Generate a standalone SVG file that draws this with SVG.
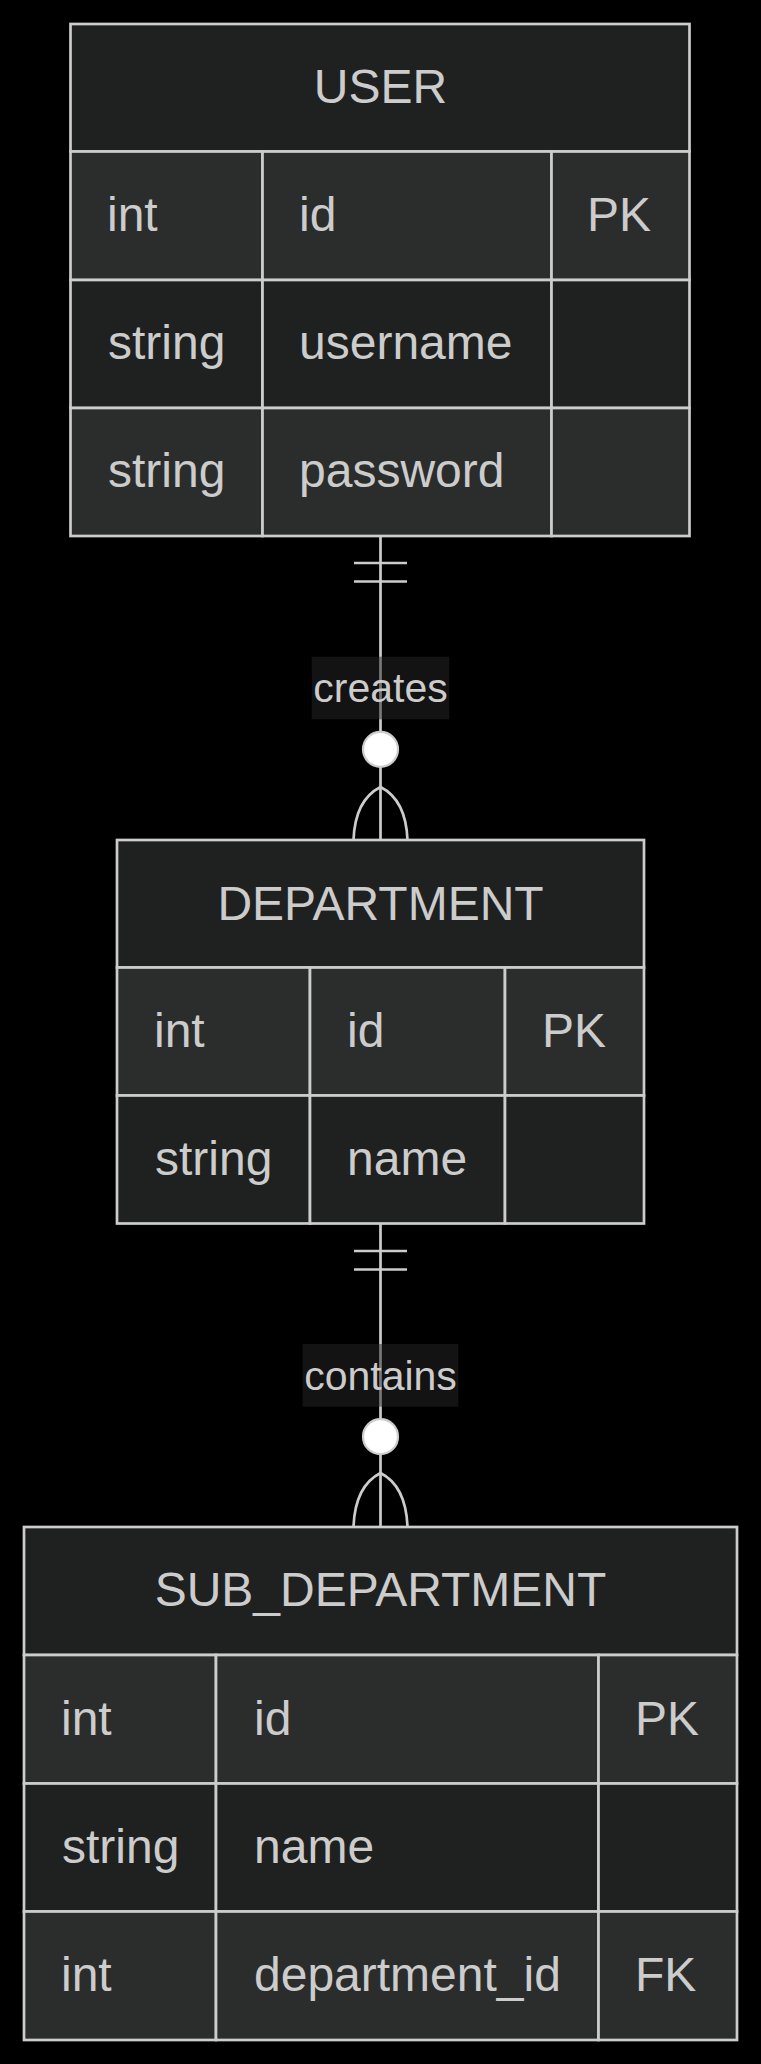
<svg xmlns="http://www.w3.org/2000/svg" width="761" height="2064" viewBox="0 0 761 2064">
<style>
.bg{fill:#000000}
.hd{fill:#1f2020;stroke:#cccccc;stroke-width:2.7}
.odd{fill:#2b2d2d;stroke:#cccccc;stroke-width:2.7}
.even{fill:#1f2020;stroke:#cccccc;stroke-width:2.7}
.t{font-family:"Liberation Sans",Arial,sans-serif;font-size:48px;fill:#cccccc}
.ttl{text-anchor:middle}
.ln{stroke:#cccccc;stroke-width:2.7;fill:none}
.circ{fill:#ffffff;stroke:#cccccc;stroke-width:2.2}
.lblbg{fill:#252525;opacity:0.5}
.lbl{font-family:"Liberation Sans",Arial,sans-serif;font-size:41px;fill:#cccccc;text-anchor:middle}
</style>
<rect class="bg" x="0" y="0" width="761" height="2064"/>
<g id="connectors">
  <g id="rel-user-department">
    <path class="ln" d="M380.5,536 L380.5,840"/>
    <path class="ln" d="M354,563 L407,563 M354,581.5 L407,581.5"/>
    <circle class="circ" cx="380.5" cy="749.3" r="17.5"/>
    <path class="ln" d="M380.5,787 Q355,800 353.5,840 M380.5,787 Q406,800 407.5,840"/>
    <rect class="lblbg" x="311.7" y="656.7" width="137.6" height="62.6"/>
    <text class="lbl" x="380.5" y="702">creates</text>
  </g>
  <g id="rel-department-sub">
    <path class="ln" d="M380.5,1223.5 L380.5,1527"/>
    <path class="ln" d="M354,1251 L407,1251 M354,1269.5 L407,1269.5"/>
    <circle class="circ" cx="380.5" cy="1436.7" r="17.5"/>
    <path class="ln" d="M380.5,1473 Q355,1486 353.5,1527 M380.5,1473 Q406,1486 407.5,1527"/>
    <rect class="lblbg" x="302.6" y="1344" width="155.7" height="62.7"/>
    <text class="lbl" x="380.5" y="1389.5">contains</text>
  </g>
</g>
<g id="USER">
  <rect class="hd" x="70.5" y="24" width="619" height="127.5"/>
  <text class="t ttl" x="380.5" y="103">USER</text>
  <rect class="odd" x="70.5" y="151.5" width="192" height="128.5"/>
  <rect class="odd" x="262.5" y="151.5" width="289" height="128.5"/>
  <rect class="odd" x="551.5" y="151.5" width="138" height="128.5"/>
  <rect class="even" x="70.5" y="280" width="192" height="128"/>
  <rect class="even" x="262.5" y="280" width="289" height="128"/>
  <rect class="even" x="551.5" y="280" width="138" height="128"/>
  <rect class="odd" x="70.5" y="408" width="192" height="128"/>
  <rect class="odd" x="262.5" y="408" width="289" height="128"/>
  <rect class="odd" x="551.5" y="408" width="138" height="128"/>
  <text class="t" x="107" y="231">int</text>
  <text class="t" x="299" y="231">id</text>
  <text class="t" x="587" y="231">PK</text>
  <text class="t" x="108" y="359">string</text>
  <text class="t" x="299" y="359">username</text>
  <text class="t" x="108" y="487">string</text>
  <text class="t" x="299" y="487">password</text>
</g>
<g id="DEPARTMENT">
  <rect class="hd" x="117" y="840" width="527" height="127.5"/>
  <text class="t ttl" x="380.5" y="920">DEPARTMENT</text>
  <rect class="odd" x="117" y="967.5" width="193" height="128"/>
  <rect class="odd" x="310" y="967.5" width="195" height="128"/>
  <rect class="odd" x="505" y="967.5" width="139" height="128"/>
  <rect class="even" x="117" y="1095.5" width="193" height="128"/>
  <rect class="even" x="310" y="1095.5" width="195" height="128"/>
  <rect class="even" x="505" y="1095.5" width="139" height="128"/>
  <text class="t" x="154" y="1047">int</text>
  <text class="t" x="347" y="1047">id</text>
  <text class="t" x="542" y="1047">PK</text>
  <text class="t" x="155" y="1175">string</text>
  <text class="t" x="347" y="1175">name</text>
</g>
<g id="SUB_DEPARTMENT">
  <rect class="hd" x="24" y="1527" width="713" height="128"/>
  <text class="t ttl" x="380.5" y="1606">SUB_DEPARTMENT</text>
  <rect class="odd" x="24" y="1655" width="192" height="128.5"/>
  <rect class="odd" x="216" y="1655" width="382.5" height="128.5"/>
  <rect class="odd" x="598.5" y="1655" width="138.5" height="128.5"/>
  <rect class="even" x="24" y="1783.5" width="192" height="128"/>
  <rect class="even" x="216" y="1783.5" width="382.5" height="128"/>
  <rect class="even" x="598.5" y="1783.5" width="138.5" height="128"/>
  <rect class="odd" x="24" y="1911.5" width="192" height="128.5"/>
  <rect class="odd" x="216" y="1911.5" width="382.5" height="128.5"/>
  <rect class="odd" x="598.5" y="1911.5" width="138.5" height="128.5"/>
  <text class="t" x="61" y="1734.5">int</text>
  <text class="t" x="254" y="1734.5">id</text>
  <text class="t" x="635" y="1734.5">PK</text>
  <text class="t" x="62" y="1863">string</text>
  <text class="t" x="254" y="1863">name</text>
  <text class="t" x="61" y="1990.5">int</text>
  <text class="t" x="254" y="1990.5">department_id</text>
  <text class="t" x="635" y="1990.5">FK</text>
</g>
</svg>
